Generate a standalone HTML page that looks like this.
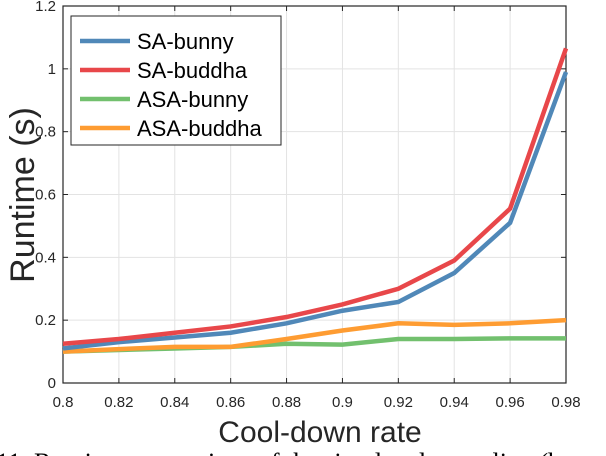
<!DOCTYPE html>
<html><head><meta charset="utf-8"><style>
html,body{margin:0;padding:0;background:#fff;width:606px;height:456px;overflow:hidden}
svg{display:block;font-family:"Liberation Sans",sans-serif}
</style></head><body>
<svg id="chart" width="606" height="456"></svg>
<script>
const categories=[0.8,0.82,0.84,0.86,0.88,0.9,0.92,0.94,0.96,0.98];
const saBunny=[0.11,0.13,0.145,0.16,0.19,0.23,0.258,0.35,0.51,0.99];
const saBuddha=[0.125,0.14,0.16,0.18,0.21,0.25,0.30,0.39,0.555,1.065];
const asaBunny=[0.1,0.105,0.11,0.115,0.125,0.122,0.14,0.14,0.142,0.142];
const asaBuddha=[0.1,0.108,0.115,0.115,0.14,0.167,0.19,0.185,0.19,0.2];
const xTicks=["0.8","0.82","0.84","0.86","0.88","0.9","0.92","0.94","0.96","0.98"];
const yTicks=["0","0.2","0.4","0.6","0.8","1","1.2"];
const seriesNames=["SA-bunny","SA-buddha","ASA-bunny","ASA-buddha"];

const NS="http://www.w3.org/2000/svg";
const svg=document.getElementById('chart');
const L=63,R=566,T=6,B=383;
const x=v=>L+(v-0.8)/0.18*(R-L);
const y=v=>B-v/1.2*(B-T);
function mk(t,a,p){const e=document.createElementNS(NS,t);for(const k in a)e.setAttribute(k,a[k]);(p||svg).appendChild(e);return e;}

xTicks.forEach((t,i)=>{const v=parseFloat(t);const g=mk('line',{x1:x(v),x2:x(v),y1:T,y2:B,stroke:'#e3e3e3','stroke-width':1});

const tk=mk('line',{x1:x(v),x2:x(v),y1:B,y2:B-5,stroke:'#262626'});
const tk2=mk('line',{x1:x(v),x2:x(v),y1:T,y2:T+5,stroke:'#262626'});
const lb=mk('text',{x:x(v),y:B+24,'text-anchor':'middle','font-size':15,fill:'#262626'});lb.textContent=t;
});
yTicks.forEach(t=>{const v=parseFloat(t);const g=mk('line',{x1:L,x2:R,y1:y(v),y2:y(v),stroke:'#e3e3e3','stroke-width':1});

const tk=mk('line',{x1:L,x2:L+5,y1:y(v),y2:y(v),stroke:'#262626'});
const tk2=mk('line',{x1:R,x2:R-5,y1:y(v),y2:y(v),stroke:'#262626'});
const lb=mk('text',{x:L-7,y:y(v)+5,'text-anchor':'end','font-size':15,fill:'#262626'});lb.textContent=t;
});
const box=mk('rect',{x:L,y:T,width:R-L,height:B-T,fill:'none',stroke:'#262626','stroke-width':1.2});


const colors=['#5088b8','#e8474a','#72c06e','#fe9c32'];
const data=[saBunny,saBuddha,asaBunny,asaBuddha];
const order=[2,3,0,1];
order.forEach(i=>{const d=data[i].map((v,j)=>(j?'L':'M')+x(categories[j])+','+y(v)).join('');
const p=mk('path',{d:d,fill:'none',stroke:colors[i],'stroke-width':4.5,'stroke-linejoin':'miter'});
});

const lg=mk('g',{});
mk('rect',{x:71,y:16,width:210,height:129,fill:'#fff',stroke:'#262626','stroke-width':1},lg);
seriesNames.forEach((n,i)=>{const yy=41+i*29;
const ln=mk('line',{x1:80,x2:130,y1:yy,y2:yy,stroke:colors[i],'stroke-width':4.5},lg);

const t=mk('text',{x:137,y:yy+8,'font-size':22,fill:'#000'},lg);t.textContent=n;
});

const xl=mk('text',{x:320,y:442,'text-anchor':'middle','font-size':30,fill:'#262626'});xl.textContent='Cool-down rate';

const yl=mk('text',{x:0,y:0,'text-anchor':'middle','font-size':34,fill:'#262626',transform:'translate(34,195) rotate(-90)'});yl.textContent='Runtime (s)';

const cap=mk('text',{x:-4,y:471,'font-size':26,fill:'#000','font-family':'Liberation Serif,serif'});cap.textContent='11.  Runtime comparison of the simulated annealing (b';

</script>
</body></html>
